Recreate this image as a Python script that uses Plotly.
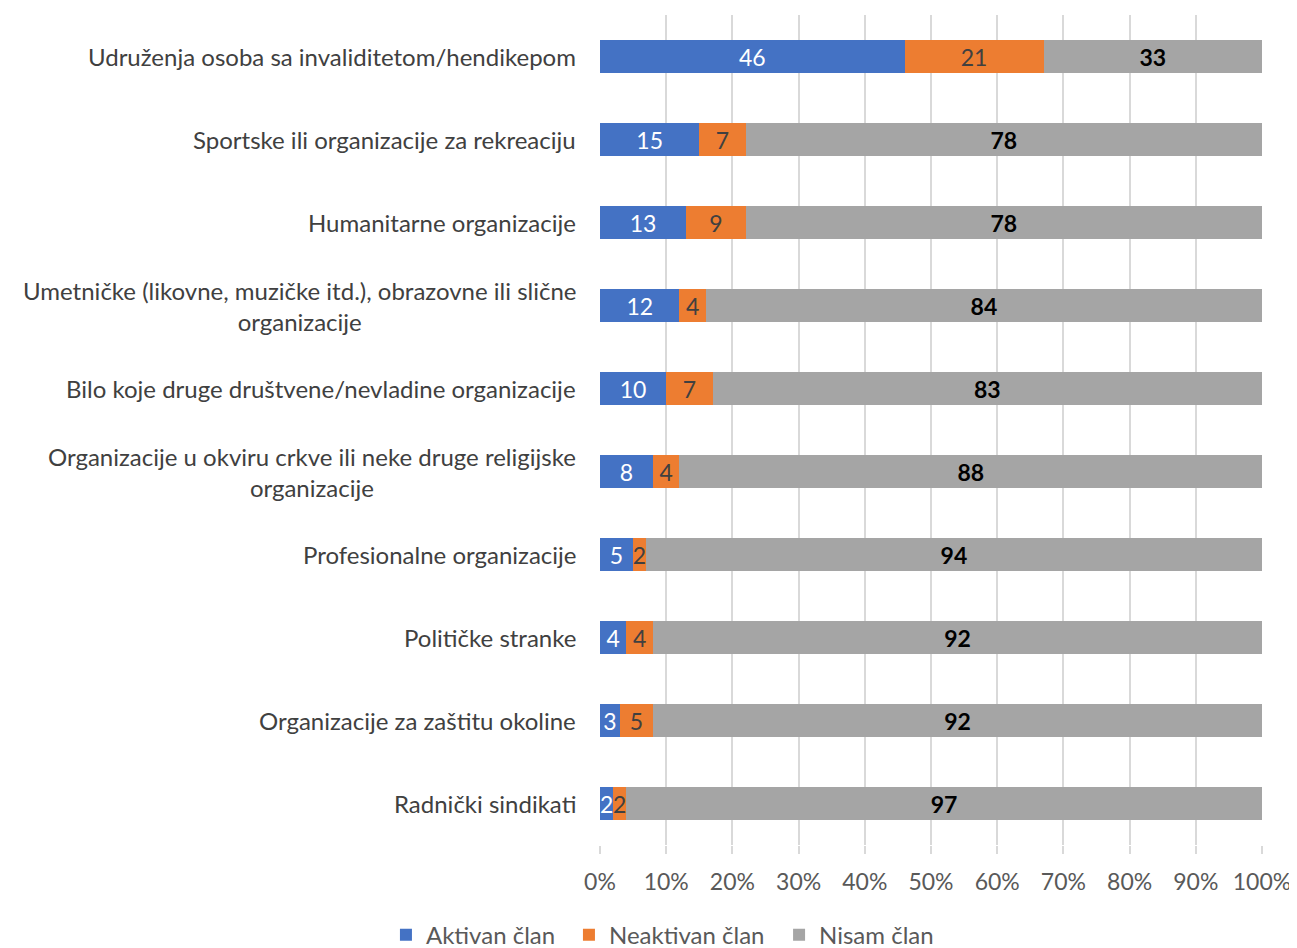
import plotly.graph_objects as go

# Kategorije (odozgo nadole) i vrednosti u procentima
kategorije = [
    "Udruženja osoba sa invaliditetom/hendikepom",
    "Sportske ili organizacije za rekreaciju",
    "Humanitarne organizacije",
    "Umetničke (likovne, muzičke itd.), obrazovne ili slične<br>organizacije",
    "Bilo koje druge društvene/nevladine organizacije",
    "Organizacije u okviru crkve ili neke druge religijske<br>organizacije",
    "Profesionalne organizacije",
    "Političke stranke",
    "Organizacije za zaštitu okoline",
    "Radnički sindikati",
]
aktivan = [46, 15, 13, 12, 10, 8, 5, 4, 3, 2]
neaktivan = [21, 7, 9, 4, 7, 4, 2, 4, 5, 2]
nisam = [33, 78, 78, 84, 83, 88, 94, 92, 92, 97]

x_ticks = [0, 10, 20, 30, 40, 50, 60, 70, 80, 90, 100]
x_labels = [f"{v}%" for v in x_ticks]

FONT = "Lato, 'Open Sans', sans-serif"

serije = [
    ("Aktivan član", aktivan, "#4472C4", dict(color="white", size=23)),
    ("Neaktivan član", neaktivan, "#ED7D31", dict(color="#404040", size=23)),
    ("Nisam član", nisam, "#A5A5A5", dict(color="black", size=23, weight="bold")),
]
legende = ["legend", "legend2", "legend3"]
legend_x = [0.2914, 0.4325, 0.5945]

fig = go.Figure()
for (ime, vals, boja, tfont), leg in zip(serije, legende):
    fig.add_bar(
        y=kategorije, x=vals, name=ime, orientation="h", legend=leg,
        marker=dict(color=boja, line=dict(width=0)),
        text=[str(v) for v in vals], textposition="inside", textangle=0,
        insidetextanchor="middle", textfont=dict(family=FONT, **tfont),
        width=0.4, cliponaxis=False,
    )

# oznake kategorija kao anotacije (centrirani višeredni tekst)
for k in kategorije:
    fig.add_annotation(
        x=0, xref="paper", y=k, yref="y", text=k, showarrow=False,
        xanchor="right", align="center", xshift=-22,
        font=dict(family=FONT, size=24, color="#404040"),
    )

leg_style = dict(
    orientation="h", xref="container", yref="container", xanchor="left",
    y=0.022, yanchor="middle", itemwidth=30,
    font=dict(family=FONT, size=24, color="#595959"),
)
fig.update_layout(
    barmode="stack", barnorm="percent",
    width=1297, height=948,
    margin=dict(l=592, r=43, t=7, b=111),
    plot_bgcolor="white", paper_bgcolor="white",
    font=dict(family=FONT, size=23, color="#595959"),
    uniformtext=dict(minsize=23, mode="show"),
    showlegend=True,
    **{leg: dict(x=lx, **leg_style) for leg, lx in zip(legende, legend_x)},
)
fig.update_xaxes(
    range=[0, 100], tickvals=x_ticks, ticktext=x_labels,
    showgrid=True, gridcolor="#D9D9D9", gridwidth=2,
    ticks="outside", ticklen=8, tickcolor="#D9D9D9", tickwidth=2,
    zeroline=False, showline=False, ticklabelstandoff=8,
    tickfont=dict(family=FONT, size=23, color="#595959"),
)
fig.update_yaxes(
    autorange="reversed", showticklabels=False, showgrid=False,
    zeroline=False, showline=False,
)

fig.write_html("out.html")
